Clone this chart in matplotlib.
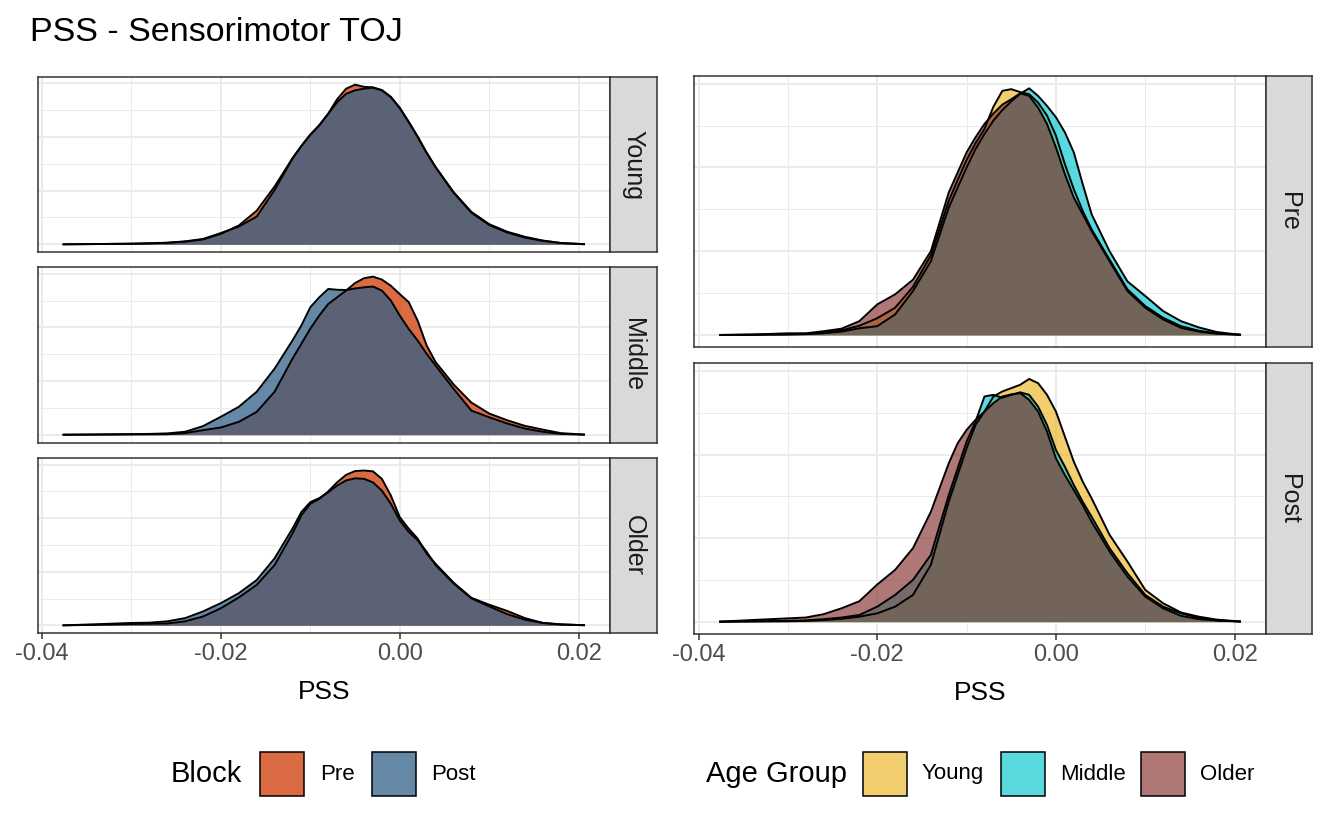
import matplotlib
matplotlib.use("Agg")
import matplotlib.pyplot as plt
from matplotlib.patches import Rectangle

plt.rcParams['font.family'] = ['Liberation Sans', 'DejaVu Sans']

# PSS grid the densities were read at
PSS = [-0.0376, -0.034, -0.030, -0.028, -0.026, -0.024, -0.022, -0.020, -0.018, -0.016,
       -0.014, -0.012, -0.011, -0.010, -0.009, -0.008, -0.007, -0.006, -0.005, -0.004,
       -0.003, -0.002, -0.001, 0.000, 0.001, 0.002, 0.003, 0.004, 0.006, 0.008,
       0.010, 0.012, 0.014, 0.016, 0.018, 0.0206]

# left block: density by block within each age group
YOUNG_PRE = [0, 0.1, 0.2, 0.35, 0.55, 1.0, 1.8, 3.9, 7.0, 12.5, 21.5, 32.0, 36.6, 40.8, 44.3, 48.6,
             54.0, 57.9, 59.4, 58.6, 58.4, 57.4, 54.9, 50.8, 45.6, 40.1, 34.1, 28.7, 19.3, 11.8,
             7.2, 4.4, 2.5, 1.3, 0.5, 0.05]
YOUNG_POST = [0, 0.1, 0.25, 0.4, 0.6, 1.1, 2.0, 4.2, 6.6, 10.3, 20.2, 31.9, 36.6, 40.8, 44.3, 48.6,
              52.9, 56.0, 57.3, 57.9, 58.3, 57.3, 54.8, 50.7, 45.5, 40.0, 34.1, 28.8, 19.5, 12.1,
              7.5, 4.7, 2.8, 1.4, 0.5, 0.05]
MIDDLE_PRE = [0, 0.05, 0.1, 0.15, 0.2, 0.6, 1.7, 2.7, 4.8, 8.5, 16.0, 28.3, 33.9, 39.5, 44.4, 48.7,
              51.2, 53.7, 56.5, 58.3, 58.9, 57.8, 55.5, 52.4, 49.4, 42.5, 33.3, 27.1, 18.8, 12.0,
              7.9, 5.4, 3.3, 1.9, 0.6, 0.05]
MIDDLE_POST = [0, 0.1, 0.25, 0.3, 0.5, 1.1, 3.2, 6.7, 10.4, 16.0, 24.6, 35.1, 40.7, 47.5, 51.2, 54.3,
               54.0, 53.9, 54.5, 54.9, 55.2, 53.7, 50.0, 44.4, 39.4, 35.1, 30.2, 25.8, 17.2, 9.0,
               6.5, 4.2, 2.3, 1.1, 0.3, 0.05]
OLDER_PRE = [0, 0.2, 0.5, 0.6, 0.7, 1.5, 3.3, 6.4, 10.4, 15.1, 22.5, 34.3, 41.1, 45.4, 47.2, 50.0,
             53.4, 56.2, 57.6, 57.8, 57.5, 54.7, 48.5, 40.4, 36.1, 32.4, 26.8, 23.0, 16.0, 10.3,
             7.7, 5.4, 2.7, 0.9, 0.4, 0.05]
OLDER_POST = [0, 0.4, 0.9, 1.0, 1.5, 2.7, 5.2, 8.3, 12.0, 16.9, 25.0, 36.1, 42.3, 46.0, 47.5, 49.7,
              52.2, 54.1, 54.9, 54.7, 53.4, 50.3, 45.4, 39.2, 34.9, 31.8, 27.5, 22.5, 15.7, 10.1,
              7.1, 4.2, 2.1, 0.9, 0.3, 0.05]

# right block: density by age group within each block
PRE_YOUNG = [0, 0.05, 0.2, 0.3, 0.6, 1.1, 2.2, 4.0, 6.5, 11.5, 19.0, 32.0, 37.0, 41.8, 45.8, 49.2,
             54.5, 58.3, 58.7, 58.0, 57.5, 55.5, 52.4, 47.6, 40.8, 34.8, 29.6, 25.2, 18.0, 10.9,
             6.9, 4.1, 2.1, 1.0, 0.4, 0.05]
PRE_MIDDLE = [0, 0.05, 0.1, 0.2, 0.4, 0.8, 1.6, 2.1, 4.9, 10.5, 17.6, 30.4, 35.2, 40.0, 44.4, 48.0,
              51.2, 53.7, 55.8, 57.6, 58.9, 57.1, 54.7, 52.0, 48.4, 43.6, 36.0, 28.8, 20.0, 12.8,
              9.3, 5.7, 3.3, 1.8, 0.7, 0.05]
PRE_OLDER = [0, 0.1, 0.4, 0.4, 0.9, 1.5, 3.3, 7.3, 9.7, 13.2, 20.0, 34.0, 38.8, 43.6, 47.2, 50.4,
             52.9, 55.0, 56.3, 57.7, 57.1, 54.3, 50.4, 44.8, 38.4, 32.8, 28.8, 24.8, 17.6, 10.5,
             6.5, 3.7, 1.7, 0.8, 0.3, 0.05]
POST_YOUNG = [0, 0.05, 0.1, 0.2, 0.4, 0.7, 1.2, 2.0, 3.6, 6.4, 13.6, 28.7, 35.1, 41.5, 47.1, 50.3,
              53.9, 55.1, 55.9, 56.7, 58.1, 57.1, 54.3, 50.3, 44.3, 38.3, 33.5, 29.5, 20.8, 14.4,
              7.6, 4.4, 2.2, 1.2, 0.5, 0.05]
POST_MIDDLE = [0, 0.1, 0.2, 0.3, 0.6, 1.0, 1.6, 3.6, 6.4, 10.0, 16.0, 30.3, 36.7, 43.1, 47.9, 53.9,
               54.3, 53.6, 54.3, 54.9, 54.3, 51.5, 47.1, 41.1, 37.1, 32.7, 28.7, 25.1, 17.6, 11.6,
               6.4, 3.6, 2.0, 0.9, 0.3, 0.05]
POST_OLDER = [0, 0.4, 0.8, 1.0, 1.8, 3.2, 4.9, 8.9, 12.4, 17.6, 26.3, 37.9, 42.7, 45.9, 48.3, 50.3,
              52.3, 53.9, 54.4, 54.7, 53.1, 50.3, 45.5, 39.1, 35.1, 31.5, 27.9, 23.9, 16.8, 10.8,
              6.0, 3.2, 1.4, 0.6, 0.3, 0.05]

AGE_GROUPS = ['Young', 'Middle', 'Older']
BLOCKS = ['Pre', 'Post']
XTICKS = [-0.04, -0.02, 0.00, 0.02]
XTICK_LABELS = ['-0.04', '-0.02', '0.00', '0.02']

BLOCK_COLORS = {'Pre': '#CF3A03', 'Post': '#306087'}
AGE_COLORS = {'Young': '#ECB420', 'Middle': '#00C3CC', 'Older': '#85302F'}
BLOCK_ALPHA = 0.75
AGE_ALPHA = 0.65

left_data = {
    'Young': {'Pre': YOUNG_PRE, 'Post': YOUNG_POST},
    'Middle': {'Pre': MIDDLE_PRE, 'Post': MIDDLE_POST},
    'Older': {'Pre': OLDER_PRE, 'Post': OLDER_POST},
}
right_data = {
    'Pre': {'Young': PRE_YOUNG, 'Middle': PRE_MIDDLE, 'Older': PRE_OLDER},
    'Post': {'Young': POST_YOUNG, 'Middle': POST_MIDDLE, 'Older': POST_OLDER},
}

W, H = 1344, 840
fig = plt.figure(figsize=(W / 100, H / 100), dpi=100)


def rect(x0, y0, x1, y1):
    # pixel box (top-left origin) -> figure fraction
    return [x0 / W, 1 - y1 / H, (x1 - x0) / W, (y1 - y0) / H]


def style_panel(ax, ymax, bottom):
    xr = max(PSS) - min(PSS)
    ax.set_xlim(min(PSS) - 0.05 * xr, max(PSS) + 0.05 * xr)
    ax.set_ylim(-0.05 * ymax, 1.05 * ymax)
    ax.set_xticks(XTICKS)
    ax.set_xticks([-0.03, -0.01, 0.01], minor=True)
    ax.set_yticks([0, 20, 40, 60])
    ax.set_yticks([10, 30, 50], minor=True)
    ax.grid(which='major', color='#EBEBEB', lw=1.4)
    ax.grid(which='minor', color='#EBEBEB', lw=0.7)
    ax.set_axisbelow(True)
    ax.tick_params(which='both', left=False, labelleft=False)
    ax.tick_params(which='minor', bottom=False)
    for s in ax.spines.values():
        s.set_color('#333333')
        s.set_linewidth(1.1)
    if bottom:
        ax.set_xticklabels(XTICK_LABELS)
        ax.tick_params(which='major', colors='#333333', labelcolor='#4D4D4D',
                       labelsize=17, length=4, width=1.1, pad=3)
        ax.set_xlabel('PSS', fontsize=19, labelpad=11)
    else:
        ax.tick_params(which='major', bottom=False, labelbottom=False)


def strip(x0, y0, x1, y1, label):
    sax = fig.add_axes(rect(x0, y0, x1, y1))
    sax.set_facecolor('#D9D9D9')
    sax.set_xticks([])
    sax.set_yticks([])
    for s in sax.spines.values():
        s.set_color('#333333')
        s.set_linewidth(1.1)
    sax.text(0.5, 0.5, label, rotation=270, ha='center', va='center',
             fontsize=18, color='#1A1A1A', transform=sax.transAxes)


def density(ax, ys, color, alpha):
    ax.fill_between(PSS, 0, ys, color=color, alpha=alpha, lw=0)
    ax.plot(PSS, ys, color='black', lw=1.4, solid_joinstyle='round')


# left: faceted by age group, fill by block
left_rows = [(76.7, 252.3), (267.3, 442.7), (458.3, 633.3)]
left_max = max(max(v) for g in left_data.values() for v in g.values())
for (y0, y1), age in zip(left_rows, AGE_GROUPS):
    ax = fig.add_axes(rect(37.5, y0, 610, y1))
    for blk in BLOCKS:
        density(ax, left_data[age][blk], BLOCK_COLORS[blk], BLOCK_ALPHA)
    style_panel(ax, left_max, bottom=(age == 'Older'))
    strip(610, y0, 657, y1, age)

# right: faceted by block, fill by age group
right_rows = [(76, 347.3), (363.3, 634)]
right_max = max(max(v) for g in right_data.values() for v in g.values())
for (y0, y1), blk in zip(right_rows, BLOCKS):
    ax = fig.add_axes(rect(694, y0, 1266, y1))
    for age in AGE_GROUPS:
        density(ax, right_data[blk][age], AGE_COLORS[age], AGE_ALPHA)
    style_panel(ax, right_max, bottom=(blk == 'Post'))
    strip(1266, y0, 1312, y1, blk)

fig.text(30 / W, 1 - 41 / H, 'PSS - Sensorimotor TOJ', fontsize=24.5, ha='left', va='baseline')

# legends
LEG_Y = 774


def legend_key(x, color, alpha, label, text_x):
    fig.add_artist(Rectangle((x / W, 1 - (LEG_Y + 22) / H), 44 / W, 44 / H,
                             transform=fig.transFigure, facecolor=color, alpha=alpha,
                             edgecolor='none'))
    fig.add_artist(Rectangle((x / W, 1 - (LEG_Y + 22) / H), 44 / W, 44 / H,
                             transform=fig.transFigure, facecolor='none',
                             edgecolor='black', lw=1.1))
    fig.text(text_x / W, 1 - LEG_Y / H, label, fontsize=16, ha='left', va='center')


fig.text(171 / W, 1 - LEG_Y / H, 'Block', fontsize=21, ha='left', va='center')
for blk, kx, tx in zip(BLOCKS, [260, 372], [320, 431]):
    legend_key(kx, BLOCK_COLORS[blk], BLOCK_ALPHA, blk, tx)

fig.text(706 / W, 1 - LEG_Y / H, 'Age Group', fontsize=21, ha='left', va='center')
for age, kx, tx in zip(AGE_GROUPS, [863, 1001, 1141], [922, 1060, 1200]):
    legend_key(kx, AGE_COLORS[age], AGE_ALPHA, age, tx)

fig.savefig('out.png', dpi=100, facecolor='white')
